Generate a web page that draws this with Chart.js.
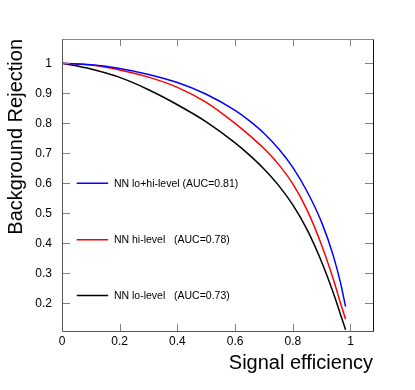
<!DOCTYPE html>
<html>
<head>
<meta charset="utf-8">
<script src="https://cdn.jsdelivr.net/npm/chart.js@4"></script>
<style>
  html, body { margin: 0; padding: 0; background: #fff; }
  canvas { display: block; }
</style>
</head>
<body>
<canvas id="rocChart" width="415" height="390"></canvas>
<script>
// --- ROC data ---
const signalEff = [0, 0.1, 0.2, 0.3, 0.4, 0.5, 0.6, 0.65, 0.7, 0.75, 0.8, 0.85, 0.9, 0.94, 0.965, 0.983];
const rejLoHi   = [1.0, 0.995, 0.983, 0.963, 0.936, 0.897, 0.843, 0.808, 0.767, 0.716, 0.653, 0.572, 0.47, 0.36, 0.27, 0.189];
const rejHi     = [1.0, 0.994, 0.978, 0.954, 0.92, 0.87, 0.80, 0.76, 0.716, 0.664, 0.598, 0.51, 0.394, 0.282, 0.202, 0.147];
const rejLo     = [1.0, 0.981, 0.953, 0.912, 0.862, 0.805, 0.735, 0.694, 0.648, 0.594, 0.528, 0.445, 0.338, 0.236, 0.164, 0.112];

const seriesLabels = ['NN lo+hi-level (AUC=0.81)', 'NN hi-level   (AUC=0.78)', 'NN lo-level   (AUC=0.73)'];
const xTicks = [0, 0.2, 0.4, 0.6, 0.8, 1];
const yTicks = [0.2, 0.3, 0.4, 0.5, 0.6, 0.7, 0.8, 0.9, 1];

const FONT = '"Liberation Sans", Arial, Helvetica, sans-serif';

function toPoints(ys) {
    return signalEff.map((x, i) => ({ x: x, y: ys[i] }));
}

// frame, inward ticks and the in-plot legend (ROOT style)
const rootStyle = {
    id: 'rootStyle',
    afterDraw(chart) {
        const { ctx, chartArea: a, scales } = chart;
        const xs = scales.x, ys = scales.y;
        ctx.save();
        ctx.lineWidth = 1;

        // ticks
        ctx.strokeStyle = '#808080';
        ctx.beginPath();
        xTicks.forEach(v => {
            const px = Math.round(xs.getPixelForValue(v)) + 0.5;
            ctx.moveTo(px, a.bottom); ctx.lineTo(px, a.bottom - 7);
            ctx.moveTo(px, a.top); ctx.lineTo(px, a.top + 7);
        });
        yTicks.forEach(v => {
            const py = Math.round(ys.getPixelForValue(v)) + 0.5;
            ctx.moveTo(a.left, py); ctx.lineTo(a.left + 8, py);
            ctx.moveTo(a.right, py); ctx.lineTo(a.right - 8, py);
        });
        ctx.stroke();

        // frame
        const l = Math.round(a.left) + 0.5, r = Math.round(a.right) + 0.5;
        const t = Math.round(a.top) + 0.5, b = Math.round(a.bottom) + 0.5;
        ctx.strokeStyle = '#8a8a8a';
        ctx.beginPath();
        ctx.moveTo(l, t); ctx.lineTo(r, t);
        ctx.stroke();
        ctx.strokeStyle = '#555';
        ctx.beginPath();
        ctx.moveTo(l, t); ctx.lineTo(l, b); ctx.lineTo(r, b);
        ctx.stroke();
        ctx.strokeStyle = '#111';
        ctx.beginPath();
        ctx.moveTo(r, t); ctx.lineTo(r, b);
        ctx.stroke();

        // legend entries
        const legendY = [0.6, 0.412, 0.226];
        const x0 = xs.getPixelForValue(0.051), x1 = xs.getPixelForValue(0.16);
        const tx = xs.getPixelForValue(0.18);
        ctx.font = '10.5px ' + FONT;
        ctx.textBaseline = 'middle';
        ctx.textAlign = 'left';
        chart.data.datasets.forEach((ds, i) => {
            const py = ys.getPixelForValue(legendY[i]);
            ctx.strokeStyle = ds.borderColor;
            ctx.lineWidth = 1.5;
            ctx.beginPath();
            ctx.moveTo(x0, py); ctx.lineTo(x1, py);
            ctx.stroke();
            ctx.fillStyle = '#000';
            ctx.fillText(ds.label, tx, py + 0.5);
        });
        ctx.restore();
    }
};

const ctxRoc = document.getElementById('rocChart').getContext('2d');
const chart = new Chart(ctxRoc, {
    type: 'scatter',
    data: {
        datasets: [
            { label: seriesLabels[0], data: toPoints(rejLoHi), borderColor: '#0000ff' },
            { label: seriesLabels[1], data: toPoints(rejHi), borderColor: '#ff0000' },
            { label: seriesLabels[2], data: toPoints(rejLo), borderColor: '#000000' }
        ].map(d => Object.assign(d, {
            showLine: true,
            pointRadius: 0,
            borderWidth: 1.5,
            backgroundColor: 'transparent',
            cubicInterpolationMode: 'monotone'
        }))
    },
    options: {
        responsive: false,
        animation: false,
        layout: { padding: { left: 0, right: 42, top: 39, bottom: 0 } },
        scales: {
            x: {
                type: 'linear',
                min: 0,
                max: 1.078,
                grid: { display: false, drawTicks: false },
                border: { display: false },
                afterBuildTicks: s => { s.ticks = xTicks.map(v => ({ value: v })); },
                afterFit: s => { s.height = 59; },
                ticks: {
                    padding: 3,
                    color: '#000',
                    font: { family: FONT, size: 12 },
                    callback: v => String(+v.toFixed(1))
                },
                title: {
                    display: true,
                    text: 'Signal efficiency',
                    align: 'end',
                    color: '#000',
                    font: { family: FONT, size: 20 },
                    padding: { top: 0, bottom: 15 }
                }
            },
            y: {
                type: 'linear',
                min: 0.108,
                max: 1.081,
                grid: { display: false, drawTicks: false },
                border: { display: false },
                afterBuildTicks: s => { s.ticks = yTicks.map(v => ({ value: v })); },
                afterFit: s => { s.width = 62; },
                ticks: {
                    padding: 10,
                    color: '#000',
                    font: { family: FONT, size: 12 },
                    callback: v => String(+v.toFixed(1))
                },
                title: {
                    display: true,
                    text: 'Background Rejection',
                    align: 'end',
                    color: '#000',
                    font: { family: FONT, size: 20 },
                    padding: { top: 4, bottom: 0 }
                }
            }
        },
        plugins: {
            legend: { display: false },
            tooltip: { enabled: false }
        }
    },
    plugins: [rootStyle]
});
</script>
</body>
</html>
